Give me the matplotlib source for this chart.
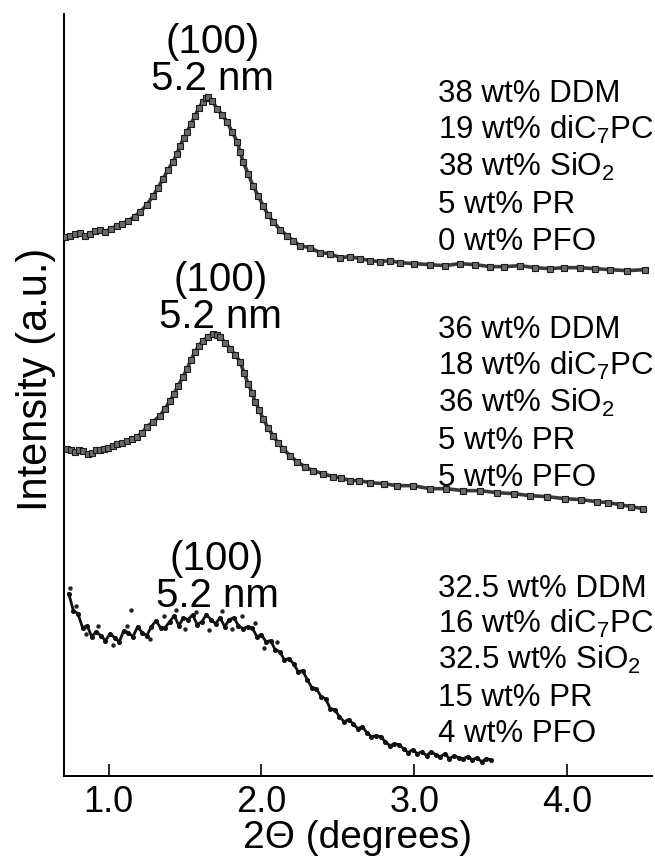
import matplotlib.pyplot as plt
import numpy as np

plt.rcParams['font.family'] = ['Liberation Sans', 'DejaVu Sans']
plt.rcParams['mathtext.fontset'] = 'custom'
plt.rcParams['mathtext.rm'] = 'Liberation Sans'
plt.rcParams['mathtext.it'] = 'Liberation Sans'

# SAXS scans, intensity in arbitrary units (curves already offset vertically)
# 0 wt% PFO sample
theta_0 = [0.717, 0.750, 0.782, 0.815, 0.847, 0.880, 0.913, 0.945, 0.978, 1.017,
           1.056, 1.090, 1.128, 1.170, 1.207, 1.252, 1.292, 1.324, 1.357, 1.390,
           1.422, 1.449, 1.468, 1.494, 1.514, 1.540, 1.566, 1.592, 1.618, 1.638,
           1.651, 1.677, 1.710, 1.743, 1.775, 1.808, 1.841, 1.860, 1.880, 1.913,
           1.945, 1.978, 2.011, 2.043, 2.076, 2.122, 2.168, 2.207, 2.252, 2.318,
           2.383, 2.449, 2.514, 2.580, 2.645, 2.710, 2.775, 2.840, 2.906, 3.000,
           3.102, 3.200, 3.298, 3.400, 3.494, 3.590, 3.690, 3.790, 3.886, 3.980,
           4.082, 4.180, 4.279, 4.390, 4.507]
int_0 = [539, 540, 542, 543, 540, 542, 545, 546, 544, 547,
         550, 552, 555, 559, 564, 571, 580, 588, 597, 606,
         614, 622, 630, 638, 644, 652, 660, 668, 674, 678,
         679, 675, 667, 661, 654, 644, 634, 624, 614, 602,
         590, 580, 570, 561, 554, 546, 540, 535, 530, 528,
         523, 522, 518, 519, 517, 515, 514, 515, 513, 512,
         511, 510, 512, 511, 509, 509, 510, 508, 507, 508,
         508, 507, 506, 505, 506]

# 5 wt% PFO sample
theta_5 = [0.730, 0.756, 0.782, 0.808, 0.834, 0.863, 0.893, 0.920, 0.945, 0.970,
           0.998, 1.027, 1.056, 1.090, 1.122, 1.155, 1.187, 1.220, 1.252, 1.292,
           1.337, 1.370, 1.403, 1.429, 1.455, 1.488, 1.514, 1.540, 1.566, 1.592,
           1.618, 1.651, 1.684, 1.710, 1.730, 1.762, 1.795, 1.828, 1.860, 1.886,
           1.913, 1.939, 1.958, 1.985, 2.011, 2.043, 2.076, 2.109, 2.141, 2.187,
           2.233, 2.285, 2.337, 2.403, 2.468, 2.520, 2.579, 2.640, 2.710, 2.800,
           2.886, 2.990, 3.102, 3.210, 3.318, 3.430, 3.540, 3.650, 3.756, 3.870,
           3.984, 4.090, 4.194, 4.270, 4.344, 4.420, 4.494]
int_5 = [327, 326, 324, 326, 325, 322, 323, 326, 326, 327,
         328, 330, 332, 333, 335, 337, 339, 343, 349, 354,
         360, 367, 375, 382, 390, 399, 407, 416, 424, 430,
         435, 439, 442, 441, 439, 433, 427, 421, 414, 403,
         392, 383, 374, 366, 357, 348, 340, 333, 327, 320,
         314, 309, 305, 302, 299, 298, 295, 295, 293, 292,
         290, 290, 287, 287, 285, 285, 283, 282, 280, 279,
         277, 276, 274, 273, 271, 269, 267]

# 4 wt% PFO / 15 wt% PR sample (noisy scan)
theta_4 = [0.74, 0.77, 0.80, 0.83, 0.86, 0.89, 0.92, 0.95, 0.98, 1.01,
           1.04, 1.07, 1.10, 1.13, 1.16, 1.19, 1.22, 1.25, 1.28, 1.31,
           1.34, 1.37, 1.40, 1.43, 1.46, 1.49, 1.52, 1.55, 1.58, 1.61,
           1.64, 1.67, 1.70, 1.73, 1.76, 1.79, 1.82, 1.85, 1.88, 1.91,
           1.94, 1.97, 2.00, 2.03, 2.06, 2.09, 2.12, 2.15, 2.18, 2.21,
           2.24, 2.27, 2.30, 2.33, 2.36, 2.39, 2.42, 2.45, 2.48, 2.51,
           2.54, 2.57, 2.60, 2.63, 2.66, 2.69, 2.72, 2.75, 2.78, 2.81,
           2.84, 2.87, 2.90, 2.93, 2.96, 2.99, 3.02, 3.05, 3.08, 3.11,
           3.14, 3.17, 3.20, 3.23, 3.26, 3.29, 3.32, 3.35, 3.38, 3.41,
           3.44, 3.47, 3.50]
int_4 = [182, 165, 162, 148, 150, 139, 144, 140, 135, 142,
         138, 134, 145, 143, 139, 149, 143, 140, 149, 155,
         148, 148, 154, 160, 150, 158, 156, 161, 151, 154,
         161, 156, 152, 158, 149, 156, 158, 150, 147, 149,
         148, 139, 141, 134, 135, 126, 124, 116, 117, 112,
         104, 105, 96, 88, 87, 79, 77, 67, 66, 59,
         54, 56, 52, 47, 49, 43, 39, 40, 39, 34,
         30, 32, 31, 27, 23, 26, 22, 24, 20, 24,
         21, 19, 22, 17, 20, 18, 17, 19, 16, 18,
         14, 17, 16]
# stray counts scattered around the plateau
stray_theta = [0.75, 0.79, 0.85, 0.93, 1.03, 1.12, 1.15, 1.27, 1.36, 1.44,
               1.50, 1.57, 1.66, 1.74, 1.81, 1.87, 1.96, 2.02, 2.10]
stray_int = [188, 170, 142, 150, 131, 150, 166, 137, 160, 166,
             147, 164, 146, 165, 147, 160, 153, 128, 134]

compositions = [
    ['38 wt% DDM', '19 wt% diC$_7$PC', '38 wt% SiO$_2$', '5 wt% PR', '0 wt% PFO'],
    ['36 wt% DDM', '18 wt% diC$_7$PC', '36 wt% SiO$_2$', '5 wt% PR', '5 wt% PFO'],
    ['32.5 wt% DDM', '16 wt% diC$_7$PC', '32.5 wt% SiO$_2$', '15 wt% PR', '4 wt% PFO'],
]
text_x = 3.154
text_top = [675, 439, 180]
text_step = [37, 37, 36.3]
peak_x = [1.68, 1.73, 1.71]
peak_y = [687, 449, 170]

fig = plt.figure(figsize=(6.55, 8.62), dpi=100)
ax = fig.add_axes([0.098, 0.099, 0.897, 0.884])

for th, inten in [(theta_0, int_0), (theta_5, int_5)]:
    ax.plot(th, inten, '-', color='#3a3a3a', lw=2.6, zorder=2)
    ax.plot(th, inten, 's', ms=4.0, mfc='#6a6a6a', mec='#1a1a1a', mew=0.8, zorder=3)
ax.plot(theta_4, int_4, '-', color='#111111', lw=2.0, zorder=2)
ax.plot(theta_4, int_4, 'o', ms=2.6, color='#111111', zorder=3)
ax.plot(stray_theta, stray_int, 'o', ms=2.2, color='#222222', zorder=3)

# (100) reflection labels above each peak
for px, py in zip(peak_x, peak_y):
    ax.text(px, py, '(100)\n5.2 nm', ha='center', va='baseline', fontsize=29,
            linespacing=0.95)

# sample compositions
for lines, top, step in zip(compositions, text_top, text_step):
    for i, s in enumerate(lines):
        ax.text(text_x, top - i * step, s, ha='left', va='baseline', fontsize=22.5)

ax.set_xlim(0.71, 4.553)
ax.set_ylim(0, 762)
ax.set_xticks([1.0, 2.0, 3.0, 4.0])
ax.set_xticklabels(['1.0', '2.0', '3.0', '4.0'])
ax.set_yticks([])
ax.tick_params(axis='x', direction='in', length=9, width=1.2, labelsize=26, pad=6)
for side in ['top', 'right']:
    ax.spines[side].set_visible(False)
for side in ['left', 'bottom']:
    ax.spines[side].set_linewidth(1.4)

ax.set_xlabel('2\u0398 (degrees)', fontsize=28, labelpad=0)
ax.set_ylabel('Intensity (a.u.)', fontsize=30)
ax.yaxis.set_label_coords(-0.014, 0.522)

fig.savefig('out.png', dpi=100)
